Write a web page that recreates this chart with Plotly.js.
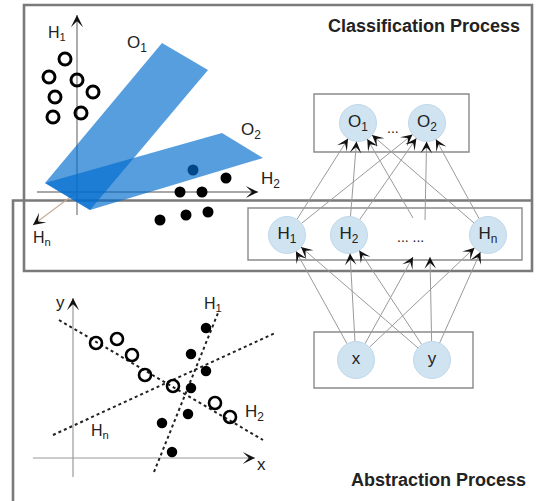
<!DOCTYPE html>
<html><head><meta charset="utf-8">
<script src="https://cdn.plot.ly/plotly-3.0.1.min.js"></script>
<style>html,body{margin:0;padding:0;background:#fff}#c{width:538px;height:501px}</style>
</head><body><div id="c"></div>
<script>
// ---------- data (page pixel coordinates) ----------
// upper-left: hidden-space scatter
const hidSpaceOpenX = [65, 49, 77, 93, 55, 81, 53];
const hidSpaceOpenY = [59, 77, 80, 92, 97, 113, 117];
const hidSpaceDotX = [193, 226, 180, 202, 160, 186, 208];
const hidSpaceDotY = [170, 178, 192, 192, 220, 215, 212];
const planeO1X = [45, 162, 208, 90];
const planeO1Y = [183, 43, 70, 210];
const planeO2X = [45, 222, 263, 90];
const planeO2Y = [183, 133, 158, 210];
const hidAxisH1 = [[77, 215], [77, 15]];
const hidAxisH2 = [[37, 192], [258, 192]];
const hidAxisHn = [[77, 192], [33, 225]];
// lower-left: input-space scatter
const inSpaceOpenX = [96, 117, 132, 145, 173, 215, 230];
const inSpaceOpenY = [343, 339, 355, 375, 386, 403, 417];
const inSpaceDotX = [206, 191, 206, 191, 188, 162, 172];
const inSpaceDotY = [328, 354, 371, 388, 414, 423, 452];
const inAxisY = [[73, 477], [73, 298]];
const inAxisX = [[33, 458], [255, 458]];
const sepLineH2 = [[59, 320], [263, 440]];
const sepLineHn = [[53, 435], [275, 333]];
const sepLineH1 = [[154, 472], [218, 313]];
// network
const outLabels = ['O<sub>1</sub>', 'O<sub>2</sub>'];
const outX = [358, 427];
const outY = [123, 123];
const hidLabels = ['H<sub>1</sub>', 'H<sub>2</sub>', 'H<sub>n</sub>'];
const hidX = [287, 349, 488];
const hidY = [235, 235, 235];
const inLabels = ['x', 'y'];
const inX = [356, 432];
const inY = [360, 360];
const gapUpX = [413, 425], gapUpY = [218, 220];
const gapDownX = [413, 430], gapDownY = [257, 257];
const edgesHO = [['H0','O0'],['H0','O1'],['H1','O0'],['H1','O1'],['U0','O0'],['U1','O1'],['H2','O0'],['H2','O1']];
const edgesIH = [['I0','H0'],['I0','H1'],['I0','D0'],['I0','H2'],['I1','H0'],['I1','H1'],['I1','D1'],['I1','H2']];

// ---------- helpers ----------
const R = 18.5;
const FONT = 'Liberation Sans, Arial, sans-serif';
function node(k){
  const t=k[0], i=+k.slice(1);
  if(t==='O') return {x:outX[i],y:outY[i],r:R};
  if(t==='H') return {x:hidX[i],y:hidY[i],r:R};
  if(t==='I') return {x:inX[i],y:inY[i],r:R};
  if(t==='U') return {x:gapUpX[i],y:gapUpY[i],r:0};
  return {x:gapDownX[i],y:gapDownY[i],r:0};
}
const traces=[], ann=[];
function seg(p,color,width,dash){
  traces.push({type:'scatter',mode:'lines',x:[p[0][0],p[1][0]],y:[p[0][1],p[1][1]],
    line:{color:color,width:width,dash:dash||'solid'},hoverinfo:'skip'});
}
function head(tx,ty,ux,uy,len,size){
  ann.push({x:tx,y:ty,ax:tx-ux*len,ay:ty-uy*len,xref:'x',yref:'y',axref:'x',ayref:'y',
    text:'',showarrow:true,arrowhead:3,arrowsize:size||1.5,arrowwidth:1.2,arrowcolor:'#111',standoff:0});
}
function axisArrow(p,color,width){
  seg(p,color,width);
  const dx=p[1][0]-p[0][0], dy=p[1][1]-p[0][1], l=Math.hypot(dx,dy);
  head(p[1][0],p[1][1],dx/l,dy/l,6,1.7);
}
function label(txt,x,y,size,extra){
  ann.push(Object.assign({x:x,y:y,xref:'x',yref:'y',text:txt,showarrow:false,
    font:{family:FONT,size:size||16,color:'#222'}},extra||{}));
}

// ---------- upper-left plot ----------
axisArrow(hidAxisH1,'#8a8a8a',1.4);
axisArrow(hidAxisH2,'#8a8a8a',1.4);
axisArrow(hidAxisHn,'#c2ae98',1.2);
traces.push({type:'scatter',mode:'markers',x:hidSpaceDotX,y:hidSpaceDotY,
  marker:{size:11,color:'#000'},hoverinfo:'skip'});
[[planeO1X,planeO1Y],[planeO2X,planeO2Y]].forEach(function(p){
  traces.push({type:'scatter',mode:'lines',x:p[0].concat([p[0][0]]),y:p[1].concat([p[1][0]]),
    fill:'toself',fillcolor:'rgba(0,108,206,0.66)',line:{width:0,color:'rgba(0,0,0,0)'},hoverinfo:'skip'});
});
traces.push({type:'scatter',mode:'markers',x:hidSpaceOpenX,y:hidSpaceOpenY,
  marker:{size:12,symbol:'circle-open',color:'#000',line:{width:3,color:'#000'}},hoverinfo:'skip'});
label('H<sub>1</sub>',57,33);
label('O<sub>1</sub>',137,44,17);
label('O<sub>2</sub>',251,131,17);
label('H<sub>2</sub>',270,180,17);
label('H<sub>n</sub>',42,238);

// ---------- lower-left plot ----------
axisArrow(inAxisY,'#9a9a9a',1.2);
axisArrow(inAxisX,'#9a9a9a',1.2);
[sepLineH2,sepLineHn,sepLineH1].forEach(function(p){seg(p,'#222',2,'dot');});
traces.push({type:'scatter',mode:'markers',x:inSpaceOpenX,y:inSpaceOpenY,
  marker:{size:12,symbol:'circle-open',color:'#000',line:{width:2.6,color:'#000'}},hoverinfo:'skip'});
traces.push({type:'scatter',mode:'markers',x:inSpaceDotX,y:inSpaceDotY,
  marker:{size:10.5,color:'#000'},hoverinfo:'skip'});
label('y',60,302,17);
label('x',261,464,17);
label('H<sub>1</sub>',213,304);
label('H<sub>2</sub>',254,413,17);
label('H<sub>n</sub>',100,431);

// ---------- network ----------
edgesHO.concat(edgesIH).forEach(function(e){
  const a=node(e[0]), b=node(e[1]);
  const dx=b.x-a.x, dy=b.y-a.y, l=Math.hypot(dx,dy), ux=dx/l, uy=dy/l;
  const sx=a.x+ux*a.r, sy=a.y+uy*a.r, tx=b.x-ux*b.r, ty=b.y-uy*b.r;
  seg([[sx,sy],[tx,ty]],'#9a9a9a',1);
  head(tx,ty,ux,uy,7,1.6);
});
function nodes(xs,ys,labels){
  traces.push({type:'scatter',mode:'markers+text',x:xs,y:ys,text:labels,textposition:'middle center',
    textfont:{family:FONT,size:17,color:'#222'},
    marker:{size:2*R,color:'#cfe3f1',line:{width:1,color:'#c0d8ea'}},hoverinfo:'skip'});
}
nodes(outX,outY,outLabels);
nodes(hidX,hidY,hidLabels);
nodes(inX,inY,inLabels);
label('...',393,128,14);
label('... ...',410,237,14);

// ---------- titles ----------
label('<b>Classification Process</b>',522,26,18,{xanchor:'right'});
label('<b>Abstraction Process</b>',528,480,18,{xanchor:'right'});

// ---------- frames ----------
const shapes=[
  {type:'rect',x0:24,y0:5,x1:532,y1:271,line:{color:'#7a7a7a',width:2.6}},
  {type:'path',path:'M13,501 L13,200.5 L532,200.5',line:{color:'#7a7a7a',width:2.6}},
  {type:'rect',x0:248,y0:208,x1:522,y1:260,line:{color:'#8a8a8a',width:1.4}},
  {type:'rect',x0:314,y0:94,x1:469,y1:152,line:{color:'#8a8a8a',width:1.4}},
  {type:'rect',x0:314,y0:332,x1:473,y1:388,line:{color:'#8a8a8a',width:1.4}}
].map(function(s){return Object.assign({xref:'x',yref:'y',layer:'below',fillcolor:'rgba(0,0,0,0)'},s);});

Plotly.newPlot('c',traces,{
  width:538,height:501,margin:{l:0,r:0,t:0,b:0},
  paper_bgcolor:'#fff',plot_bgcolor:'#fff',showlegend:false,
  xaxis:{range:[0,538],visible:false,fixedrange:true},
  yaxis:{range:[501,0],visible:false,fixedrange:true},
  shapes:shapes,annotations:ann
},{staticPlot:true,displayModeBar:false});
</script></body></html>
